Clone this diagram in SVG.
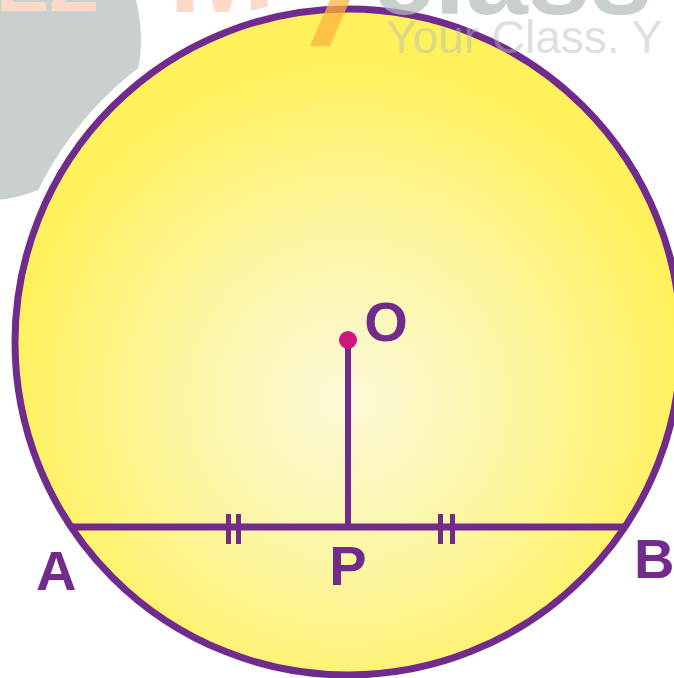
<svg xmlns="http://www.w3.org/2000/svg" width="674" height="678" viewBox="0 0 674 678">
<defs>
<radialGradient id="fillGrad" gradientUnits="userSpaceOnUse" cx="348" cy="400" r="340">
<stop offset="0" stop-color="#fcf9d8"/>
<stop offset="0.45" stop-color="#fcf6a8"/>
<stop offset="1" stop-color="#fff15c"/>
</radialGradient>
<style>
.ln{stroke:#712b8c;stroke-linecap:butt}
.lbl{font-family:"Liberation Sans",Arial,sans-serif;font-weight:bold;fill:#712b8c;font-size:56px}
.wm{font-family:"Liberation Sans",Arial,sans-serif}
</style>
</defs>
<rect width="674" height="678" fill="#ffffff"/>
<g id="watermark-back">
<circle cx="-20" cy="40" r="161" fill="#c9d0ce"/>
<text class="wm" x="-4" y="11" font-size="80" font-weight="bold" fill="#fcd9c8">EZ</text>
<text class="wm" x="168" y="12" font-size="130" font-weight="bold" fill="#fcd9c8">M</text>
</g>
<g id="circle">
<circle cx="348" cy="342" r="345" fill="#ffffff"/>
<circle cx="348" cy="342" r="333" fill="url(#fillGrad)" class="ln" stroke-width="7"/>
</g>
<g id="connectors">
<line class="ln" x1="70" y1="527" x2="627" y2="527" stroke-width="7"/>
<line class="ln" x1="348" y1="340" x2="348" y2="527" stroke-width="6"/>
<line class="ln" x1="228.5" y1="514" x2="228.5" y2="544" stroke-width="5"/>
<line class="ln" x1="238.5" y1="514" x2="238.5" y2="544" stroke-width="5"/>
<line class="ln" x1="440.5" y1="514" x2="440.5" y2="544" stroke-width="5"/>
<line class="ln" x1="452.5" y1="514" x2="452.5" y2="544" stroke-width="5"/>
</g>
<g id="node-O">
<circle cx="348" cy="340" r="9" fill="#d0157c"/>
<text class="lbl" x="386" y="341" text-anchor="middle" font-size="58">O</text>
</g>
<g id="node-A"><text class="lbl" x="36" y="590">A</text></g>
<g id="node-P"><text class="lbl" x="348" y="585" text-anchor="middle">P</text></g>
<g id="node-B"><text class="lbl" x="634" y="578">B</text></g>
<g id="watermark-front">
<polygon points="330,0 350,0 330,46 310,46" fill="#fdb13c" opacity="0.75"/>
<text class="wm" x="372" y="14" font-size="112" font-weight="bold" fill="#b3bbb9" opacity="0.7">class</text>
<text class="wm" x="386" y="53" font-size="46" fill="#b3bbb9" opacity="0.45">Your Class. Y</text>
</g>
</svg>
